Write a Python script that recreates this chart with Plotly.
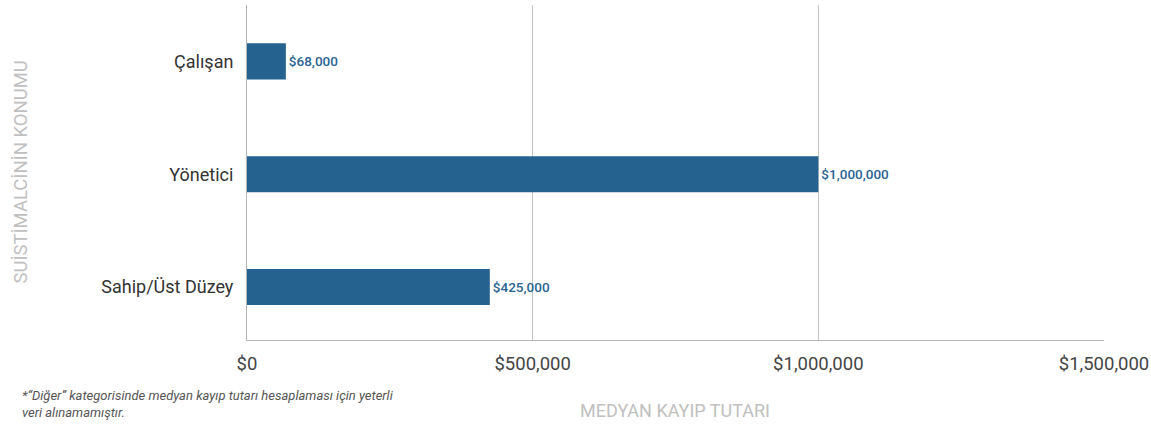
import plotly.graph_objects as go

categories = ["Çalışan", "Yönetici", "Sahip/Üst Düzey"]
values = [68000, 1000000, 425000]
value_labels = ["$68,000", "$1,000,000", "$425,000"]
x_tickvals = [0, 500000, 1000000, 1500000]
x_ticktext = ["$0", "$500,000", "$1,000,000", "$1,500,000"]

fig = go.Figure()
fig.add_trace(go.Bar(
    y=categories, x=values, orientation="h",
    marker=dict(color="#25628f", line=dict(width=0)),
    width=0.32,
    text=value_labels, textposition="outside", cliponaxis=False,
    textfont=dict(family="Roboto, sans-serif", size=13.5, color="#2a6394", weight=500),
    hoverinfo="skip",
))

fig.update_layout(
    width=1151, height=429,
    margin=dict(l=247, r=47, t=5, b=89, autoexpand=False),
    paper_bgcolor="white", plot_bgcolor="white",
    showlegend=False,
    xaxis=dict(
        range=[0, 1500000], tickvals=x_tickvals, ticktext=x_ticktext,
        showgrid=True, gridcolor="#c4c4c4", gridwidth=1,
        showline=True, linecolor="#b5b5b5", linewidth=1,
        zeroline=False, automargin=False,
        ticks="", ticklabelstandoff=7,
        tickfont=dict(family="Roboto, sans-serif", size=18.5, color="#444444"),
    ),
    yaxis=dict(
        categoryorder="array", categoryarray=categories,
        range=[2.47, -0.5], automargin=False,
        showgrid=False, showline=True, linecolor="#b5b5b5", linewidth=1,
        ticks="", ticklabelstandoff=9,
        tickfont=dict(family="Roboto, sans-serif", size=18, color="#333333"),
    ),
    annotations=[
        dict(text="SUİSTİMALCİNİN KONUMU", xref="paper", yref="paper",
             x=(20-247)/857, y=0.5, xanchor="center", yanchor="middle",
             textangle=-90, showarrow=False,
             font=dict(family="Roboto, sans-serif", size=18.5, color="#c0c0c0")),
        dict(text="MEDYAN KAYIP TUTARI", xref="paper", yref="paper",
             x=(675-247)/857, y=-(410-340)/335, xanchor="center", yanchor="middle",
             showarrow=False,
             font=dict(family="Roboto, sans-serif", size=18, color="#c0c0c0")),
        dict(text="<i>*“Diğer” kategorisinde medyan kayıp tutarı hesaplaması için yeterli<br>veri alınamamıştır.</i>",
             xref="paper", yref="paper",
             x=(20-247)/857, y=-(386-340)/335, xanchor="left", yanchor="top", align="left",
             showarrow=False,
             font=dict(family="Roboto, sans-serif", size=13, color="#555555")),
    ],
)

fig.write_html("out.html", config={"displayModeBar": False},
               post_script="document.body.style.margin='0';document.body.style.overflow='hidden';")
